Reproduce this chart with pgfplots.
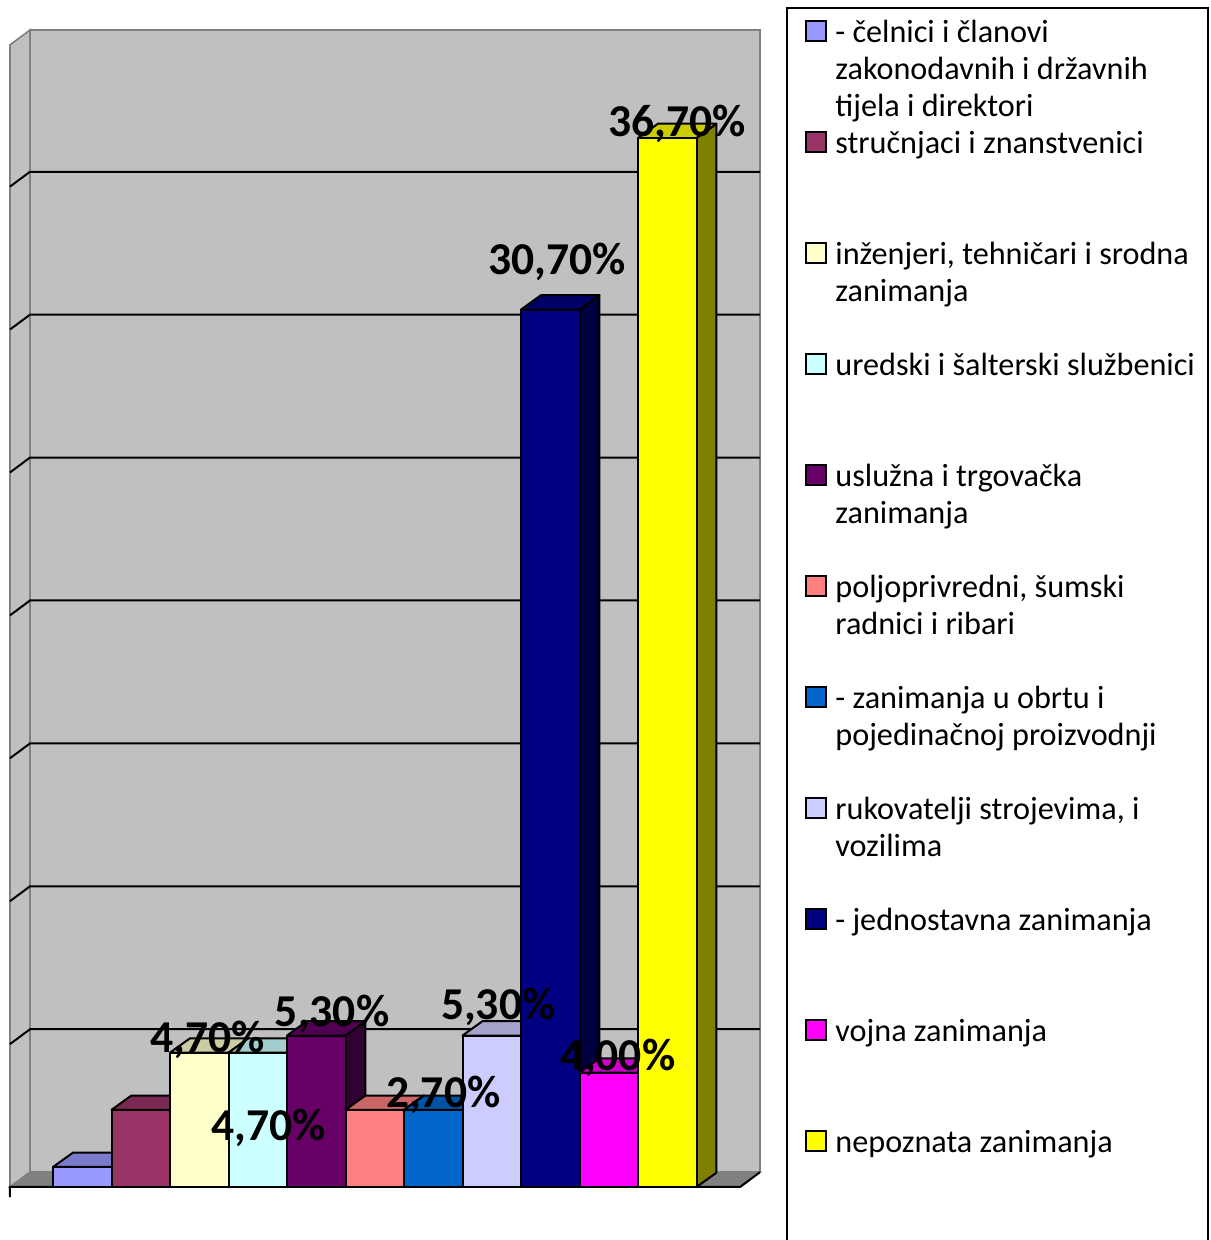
\documentclass[border=0pt]{standalone}
\usepackage{pgfplots}
\pgfplotsset{compat=1.18}
\usepackage{fontspec}
\setmainfont{Carlito}
\definecolor{c1}{RGB}{153,153,255}
\definecolor{c2}{RGB}{153,51,102}
\definecolor{c3}{RGB}{255,255,204}
\definecolor{c4}{RGB}{204,255,255}
\definecolor{c5}{RGB}{102,0,102}
\definecolor{c6}{RGB}{255,128,128}
\definecolor{c7}{RGB}{0,102,204}
\definecolor{c8}{RGB}{204,204,255}
\definecolor{c9}{RGB}{0,0,128}
\definecolor{c10}{RGB}{255,0,255}
\definecolor{c11}{RGB}{255,255,0}
\definecolor{wall}{RGB}{192,192,192}
\definecolor{floorc}{RGB}{128,128,128}
\def\bdx{0.34}
\def\bdy{0.5}
\newcommand\drawbar[3]{%
  \pgfmathsetmacro\bxa{#1}\pgfmathsetmacro\bxb{#1+1}%
  \pgfmathsetmacro\bxc{#1+\bdx}\pgfmathsetmacro\bxd{#1+1+\bdx}%
  \pgfmathsetmacro\bha{#2}\pgfmathsetmacro\bhb{#2+\bdy}%
  \edef\temp{%
    \noexpand\addplot[draw=black,line width=1pt,line join=round,fill=#3!50!black] coordinates {(\bxb,0) (\bxd,\bdy) (\bxd,\bhb) (\bxb,\bha)} -- cycle;
    \noexpand\addplot[draw=black,line width=1pt,line join=round,fill=#3!80!black] coordinates {(\bxa,\bha) (\bxc,\bhb) (\bxd,\bhb) (\bxb,\bha)} -- cycle;
    \noexpand\addplot[draw=black,line width=1pt,line join=round,fill=#3] coordinates {(\bxa,0) (\bxb,0) (\bxb,\bha) (\bxa,\bha)} -- cycle;
  }\temp}
\begin{document}
\begin{tikzpicture}
\useasboundingbox (0,0) rectangle (605pt,620pt);
\begin{axis}[
  at={(5pt,26.5pt)}, anchor=south west,
  scale only axis, width=375pt, height=578.5pt,
  xmin=-0.735, xmax=12.085, ymin=0, ymax=40.48,
  axis lines=none, clip=false,
]
% back wall
\addplot[draw=floorc,line width=0.8pt,fill=wall] coordinates {(-0.393,0.52) (12.085,0.52) (12.085,40.48) (-0.393,40.48)} -- cycle;
% left wall
\addplot[draw=floorc,line width=0.8pt,fill=wall] coordinates {(-0.735,0) (-0.393,0.52) (-0.393,40.48) (-0.735,39.96)} -- cycle;
% floor
\addplot[draw=floorc,line width=0.8pt,fill=floorc] coordinates {(-0.735,0) (11.744,0) (12.085,0.52) (-0.393,0.52)} -- cycle;
% gridlines
\addplot[black,line width=1pt] coordinates {(-0.735,5) (-0.393,5.52) (12.085,5.52)};
\addplot[black,line width=1pt] coordinates {(-0.735,10) (-0.393,10.52) (12.085,10.52)};
\addplot[black,line width=1pt] coordinates {(-0.735,15) (-0.393,15.52) (12.085,15.52)};
\addplot[black,line width=1pt] coordinates {(-0.735,20) (-0.393,20.52) (12.085,20.52)};
\addplot[black,line width=1pt] coordinates {(-0.735,25) (-0.393,25.52) (12.085,25.52)};
\addplot[black,line width=1pt] coordinates {(-0.735,30) (-0.393,30.52) (12.085,30.52)};
\addplot[black,line width=1pt] coordinates {(-0.735,35) (-0.393,35.52) (12.085,35.52)};
% front floor edge
\addplot[black,line width=1pt] coordinates {(-0.735,-0.35) (-0.735,0) (11.744,0) (12.085,0.52)};
% bars
\drawbar{0}{0.7}{c1}
\drawbar{1}{2.7}{c2}
\drawbar{2}{4.7}{c3}
\drawbar{3}{4.7}{c4}
\drawbar{4}{5.3}{c5}
\drawbar{5}{2.7}{c6}
\drawbar{6}{2.7}{c7}
\drawbar{7}{5.3}{c8}
\drawbar{8}{30.7}{c9}
\drawbar{9}{4.0}{c10}
\drawbar{10}{36.7}{c11}
% labels
\begin{scope}[every node/.style={anchor=base,inner sep=0pt,font=\bfseries\fontsize{22.8}{26}\selectfont}]
\node at (axis cs:2.65,4.72) {4,70\%};
\node at (axis cs:3.68,1.61) {4,70\%};
\node at (axis cs:4.77,5.63) {5,30\%};
\node at (axis cs:6.67,2.77) {2,70\%};
\node at (axis cs:7.61,5.87) {5,30\%};
\node at (axis cs:8.62,31.91) {30,70\%};
\node at (axis cs:9.66,4.09) {4,00\%};
\node at (axis cs:10.67,36.74) {36,70\%};
\end{scope}
\end{axis}
% legend
\draw[line width=1pt] (393.5pt,-5pt) rectangle (604pt,616pt);
\begin{scope}[line width=0.8pt]
\draw[fill=c1]  (403pt,599.5pt) rectangle (413pt,609.5pt);
\draw[fill=c2]  (403pt,544pt) rectangle (413pt,554pt);
\draw[fill=c3]  (403pt,488.5pt) rectangle (413pt,498.5pt);
\draw[fill=c4]  (403pt,433pt) rectangle (413pt,443pt);
\draw[fill=c5]  (403pt,377.5pt) rectangle (413pt,387.5pt);
\draw[fill=c6]  (403pt,322pt) rectangle (413pt,332pt);
\draw[fill=c7]  (403pt,266.5pt) rectangle (413pt,276.5pt);
\draw[fill=c8]  (403pt,211pt) rectangle (413pt,221pt);
\draw[fill=c9]  (403pt,155.5pt) rectangle (413pt,165.5pt);
\draw[fill=c10] (403pt,100pt) rectangle (413pt,110pt);
\draw[fill=c11] (403pt,44.5pt) rectangle (413pt,54.5pt);
\end{scope}
\begin{scope}[every node/.style={anchor=base west,inner sep=0pt,font=\fontsize{16.1}{18.5}\selectfont}]
\node at (417.5pt,598.5pt) {- čelnici i članovi};
\node at (417.5pt,580pt) {zakonodavnih i državnih};
\node at (417.5pt,561.5pt) {tijela i direktori};
\node at (417.5pt,543pt) {stručnjaci i znanstvenici};
\node at (417.5pt,487.5pt) {inženjeri, tehničari i srodna};
\node at (417.5pt,469pt) {zanimanja};
\node at (417.5pt,432pt) {uredski i šalterski službenici};
\node at (417.5pt,376.5pt) {uslužna i trgovačka};
\node at (417.5pt,358pt) {zanimanja};
\node at (417.5pt,321pt) {poljoprivredni, šumski};
\node at (417.5pt,302.5pt) {radnici i ribari};
\node at (417.5pt,265.5pt) {- zanimanja u obrtu i};
\node at (417.5pt,247pt) {pojedinačnoj proizvodnji};
\node at (417.5pt,210pt) {rukovatelji strojevima, i};
\node at (417.5pt,191.5pt) {vozilima};
\node at (417.5pt,154.5pt) {- jednostavna zanimanja};
\node at (417.5pt,99pt) {vojna zanimanja};
\node at (417.5pt,43.5pt) {nepoznata zanimanja};
\end{scope}
\end{tikzpicture}
\end{document}
